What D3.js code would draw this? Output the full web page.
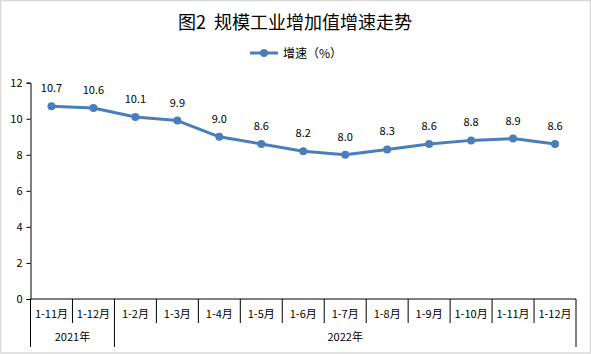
<!DOCTYPE html>
<html><head><meta charset="utf-8">
<script src="https://cdn.jsdelivr.net/npm/d3@7"></script>
<style>body{margin:0;background:#fff;}svg{display:block;}text{font-family:"Microsoft YaHei","Noto Sans CJK SC",sans-serif;}</style>
</head><body>
<svg id="c" width="591" height="354"></svg>
<script>
const categories = ["1-11月","1-12月","1-2月","1-3月","1-4月","1-5月","1-6月","1-7月","1-8月","1-9月","1-10月","1-11月","1-12月"];
const values = [10.7,10.6,10.1,9.9,9.0,8.6,8.2,8.0,8.3,8.6,8.8,8.9,8.6];
const yTicks = [0,2,4,6,8,10,12];
const groups = [{label:"2021年", start:0, end:2},{label:"2022年", start:2, end:13}];
const seriesName = "增速（%）";
const title = "图2  规模工业增加值增速走势";

(function(){
const svg = d3.select("#c");
const color = "#4A7EBB";
const mLeft = 30.5, mRight = 576, mTop = 82.7, mBottom = 299;

svg.append("rect").attr("x",0.5).attr("y",0.5).attr("width",590).attr("height",352.5)
  .attr("fill","none").attr("stroke","#d9d9d9").attr("stroke-width",1.5);

const x = d3.scaleBand().domain(d3.range(categories.length)).range([mLeft, mRight]).padding(0);
const y = d3.scaleLinear().domain([0,12]).range([mBottom, mTop]);

svg.append("text").attr("x",295).attr("y",29).attr("text-anchor","middle")
  .attr("font-size",18).attr("fill","#000").style("white-space","pre").text(title);

// legend
svg.append("line").attr("x1",250).attr("x2",278).attr("y1",53).attr("y2",53)
  .attr("stroke",color).attr("stroke-width",3);
svg.append("circle").attr("cx",264).attr("cy",53).attr("r",4).attr("fill",color);
svg.append("text").attr("x",283).attr("y",57.5).attr("font-size",12).attr("fill","#000").text(seriesName);

// y axis
const yAxis = d3.axisLeft(y).tickValues(yTicks).tickSize(4).tickPadding(4).tickFormat(d3.format("d"));
const ya = svg.append("g").attr("transform",`translate(${mLeft},0)`).call(yAxis);
ya.selectAll("text").attr("font-size",11).attr("fill","#000").style("font-family","Microsoft YaHei, Noto Sans CJK SC, sans-serif");
ya.selectAll("line,path").attr("stroke","#000");

// x axis line
svg.append("line").attr("x1",mLeft).attr("x2",mRight).attr("y1",mBottom).attr("y2",mBottom).attr("stroke","#000");
// category separators
const bounds = d3.range(categories.length+1);
const groupEdges = new Set(groups.flatMap(g=>[g.start,g.end]));
svg.selectAll("line.sep").data(bounds).join("line")
  .attr("x1",i=> i<categories.length ? x(i) : mRight)
  .attr("x2",i=> i<categories.length ? x(i) : mRight)
  .attr("y1",mBottom)
  .attr("y2",i=> groupEdges.has(i) ? 347 : 323)
  .attr("stroke","#000");

svg.selectAll("text.cat").data(categories).join("text")
  .attr("x",(d,i)=>x(i)+x.bandwidth()/2).attr("y",318)
  .attr("text-anchor","middle").attr("font-size",11).attr("fill","#000").text(d=>d);

svg.selectAll("text.grp").data(groups).join("text")
  .attr("x",g=> (x(g.start) + (g.end<categories.length ? x(g.end) : mRight))/2)
  .attr("y",341).attr("text-anchor","middle").attr("font-size",11).attr("fill","#000").text(g=>g.label);

// line
const cx = i => x(i)+x.bandwidth()/2;
svg.append("path").datum(values)
  .attr("d", d3.line().x((d,i)=>cx(i)).y(d=>y(d)))
  .attr("fill","none").attr("stroke",color).attr("stroke-width",3).attr("stroke-linejoin","round");
svg.selectAll("circle.pt").data(values).join("circle")
  .attr("cx",(d,i)=>cx(i)).attr("cy",d=>y(d)).attr("r",4).attr("fill",color);
svg.selectAll("text.lbl").data(values).join("text")
  .attr("x",(d,i)=>cx(i)).attr("y",d=>y(d)-14)
  .attr("text-anchor","middle").attr("font-size",11).attr("fill","#000").text(d=>d.toFixed(1));
})();
</script>
</body></html>
